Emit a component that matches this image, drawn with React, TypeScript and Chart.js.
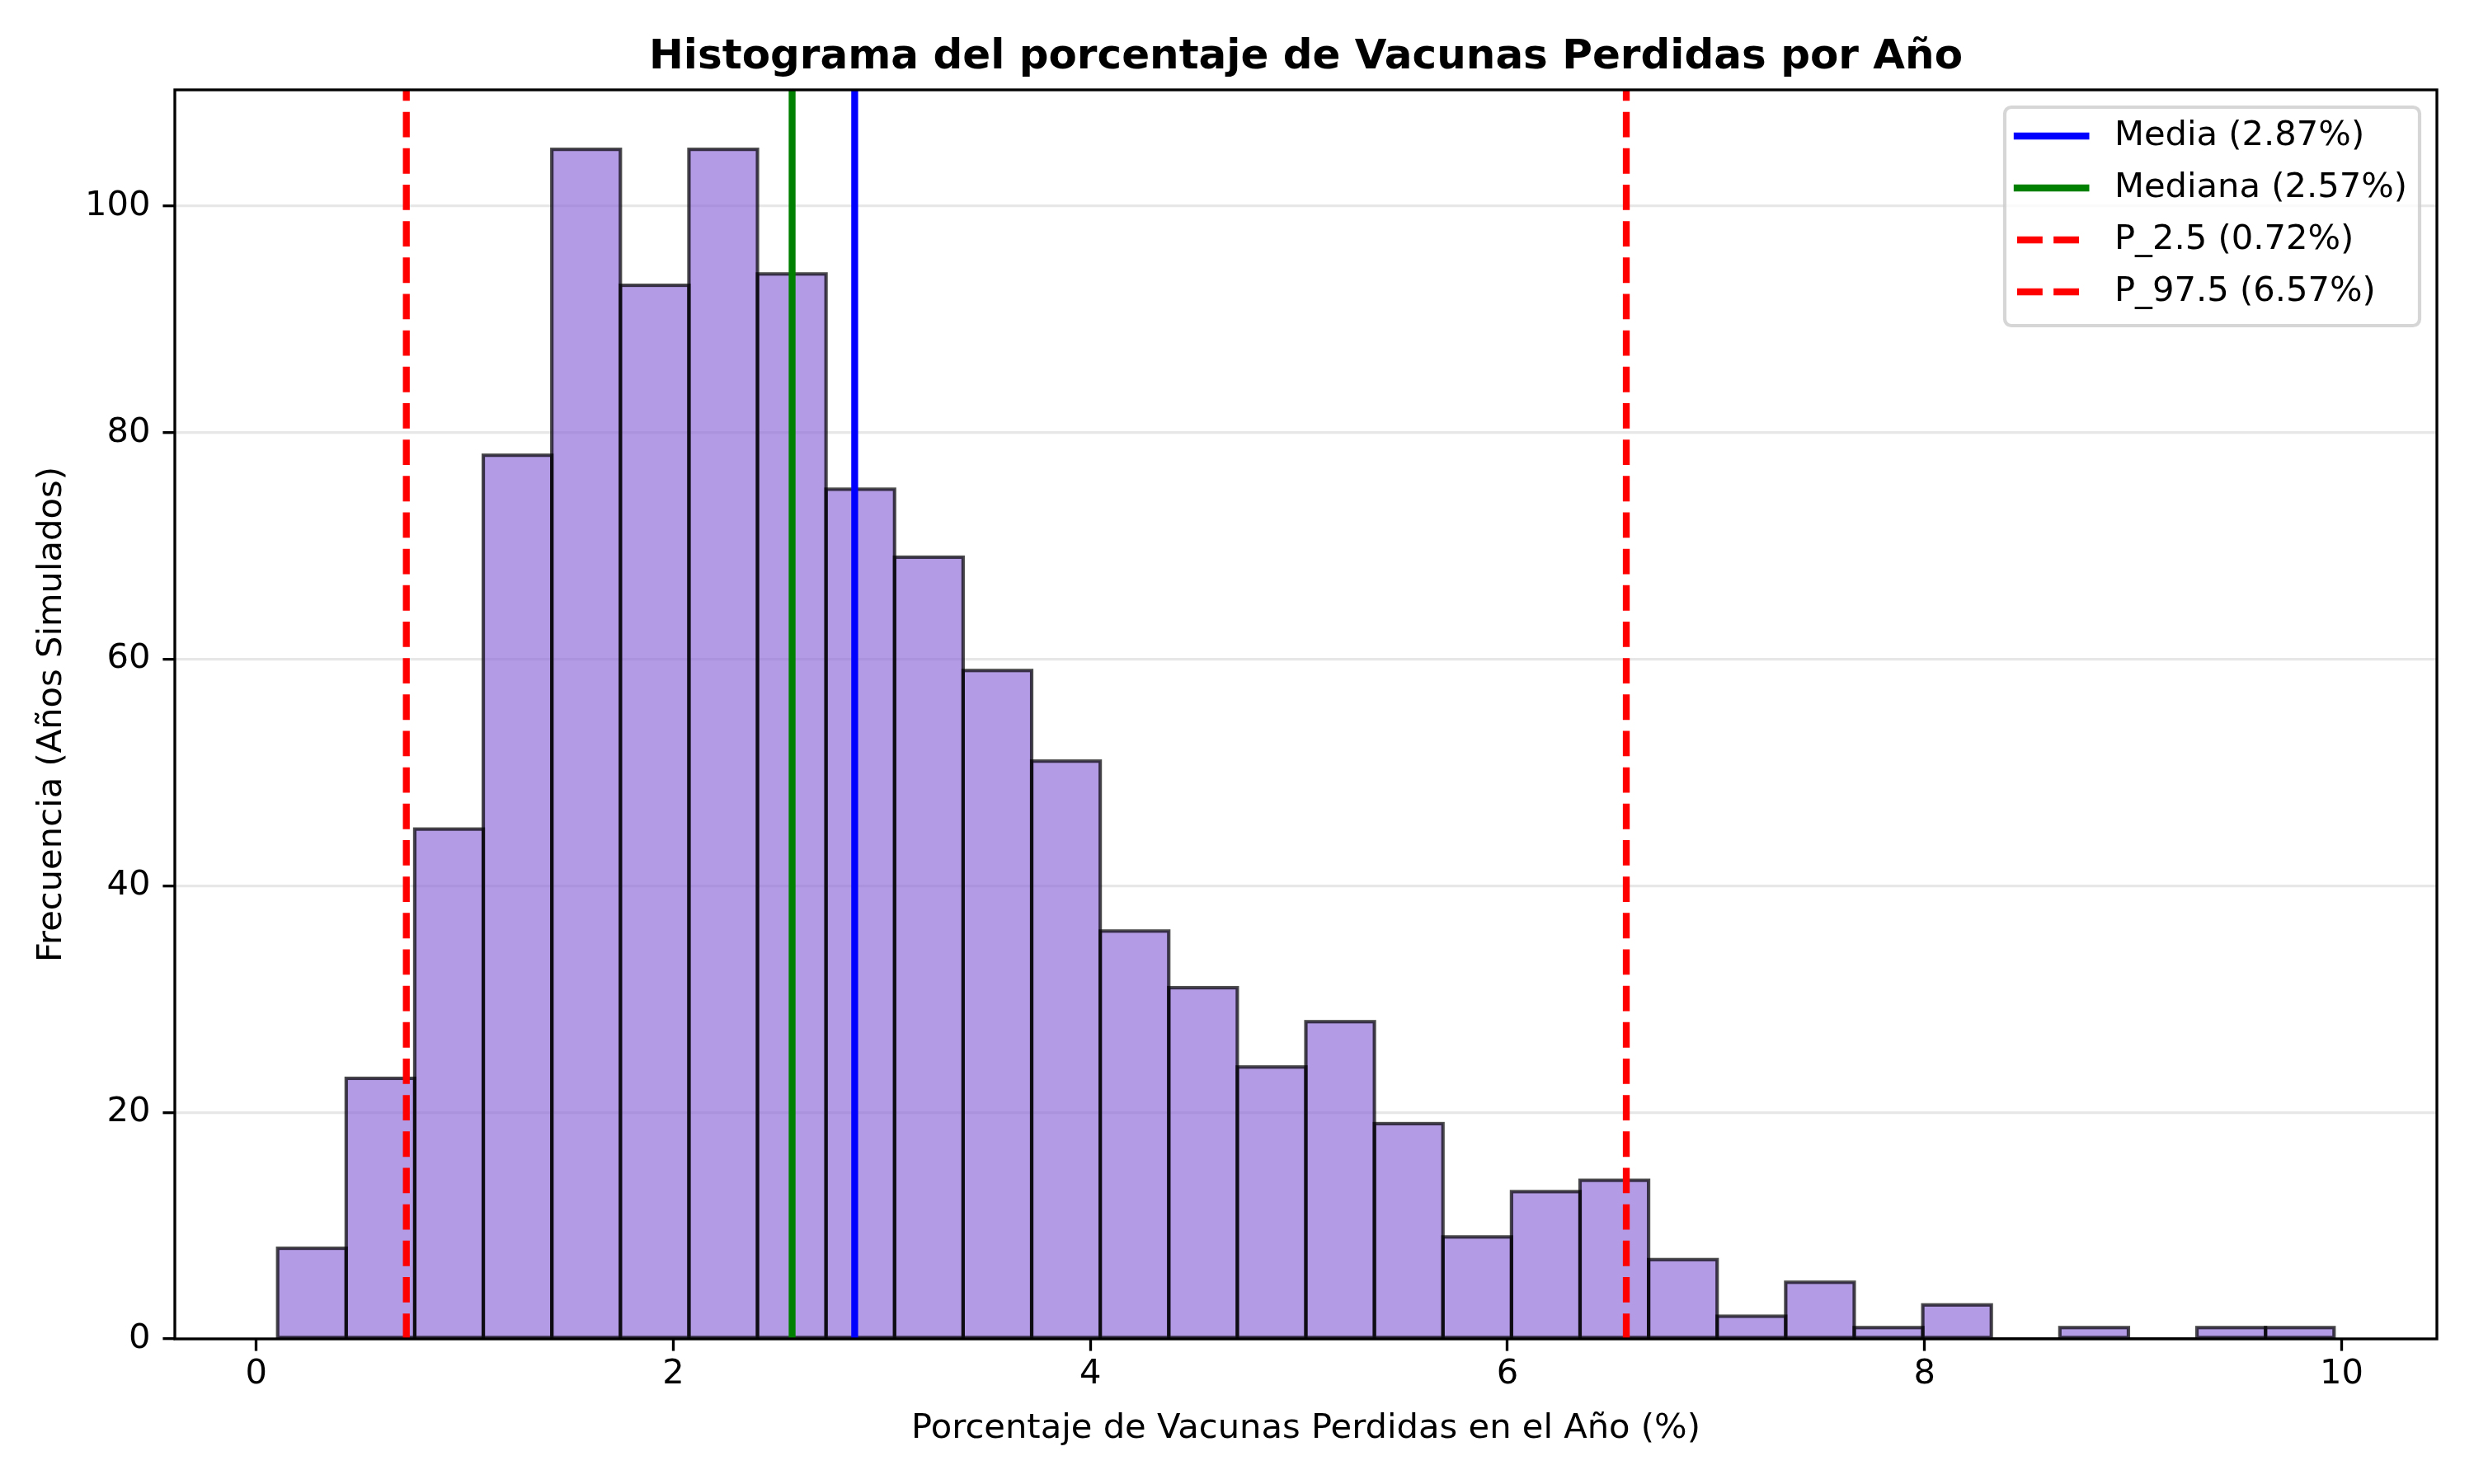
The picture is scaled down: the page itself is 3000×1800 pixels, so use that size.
import { useEffect, useRef } from 'react';
import { Chart, registerables } from 'chart.js';

Chart.register(...registerables);

// histogram bins
const binStart = 0.103;
const binWidth = 0.3287;
const binCounts = [8, 23, 45, 78, 105, 93, 105, 94, 75, 69, 59, 51, 36, 31, 24, 28, 19, 9, 13, 14, 7, 2, 5, 1, 3, 0, 1, 0, 1, 1];

// reference lines
const refLabels = ['Media (2.87%)', 'Mediana (2.57%)', 'P_2.5 (0.72%)', 'P_97.5 (6.57%)'];
const refValues = [2.87, 2.57, 0.72, 6.57];
const refColors = ['#0000ff', '#008000', '#ff0000', '#ff0000'];
const refDashed = [false, false, true, true];

const xTickValues = [0, 2, 4, 6, 8, 10];
const yTickValues = [0, 20, 40, 60, 80, 100];

const titleText = 'Histograma del porcentaje de Vacunas Perdidas por Año';
const xTitle = 'Porcentaje de Vacunas Perdidas en el Año (%)';
const yTitle = 'Frecuencia (Años Simulados)';

const FONT = "'DejaVu Sans', sans-serif";
const PT = 300 / 72; // px per point
const DASH = [3.7 * 2 * PT, 1.6 * 2 * PT];

const binEnd = binStart + binWidth * binCounts.length;
const xMin = binStart - 0.05 * (binEnd - binStart);
const xMax = binEnd + 0.05 * (binEnd - binStart);
const yMax = Math.max(...binCounts) * 1.05;

// bar outlines drawn centred on the bar edges, like matplotlib
const outlinePlugin = {
  id: 'histOutline',
  afterDatasetDraw(chart: any, args: any) {
    if (args.index !== 0) return;
    const { ctx, chartArea } = chart;
    ctx.save();
    ctx.beginPath();
    ctx.rect(chartArea.left, chartArea.top, chartArea.width, chartArea.height);
    ctx.clip();
    ctx.lineWidth = 1 * PT;
    ctx.strokeStyle = 'rgba(0,0,0,0.7)';
    ctx.lineJoin = 'miter';
    args.meta.data.forEach((el: any) => {
      const { x, y, base, width } = el.getProps(['x', 'y', 'base', 'width'], true);
      ctx.strokeRect(x - width / 2, y, width, base - y);
    });
    ctx.restore();
  },
};

// axes frame + boxed legend
const framePlugin = {
  id: 'frameLegend',
  afterDraw(chart: any) {
    const { ctx, chartArea } = chart;
    ctx.save();
    ctx.lineWidth = 0.8 * PT;
    ctx.strokeStyle = '#000';
    ctx.strokeRect(chartArea.left, chartArea.top, chartArea.width, chartArea.height);

    const boxW = 503;
    const boxH = 265;
    const bx = chartArea.right - 21 - boxW;
    const by = chartArea.top + 21;
    const r = 8;
    ctx.beginPath();
    ctx.moveTo(bx + r, by);
    ctx.arcTo(bx + boxW, by, bx + boxW, by + boxH, r);
    ctx.arcTo(bx + boxW, by + boxH, bx, by + boxH, r);
    ctx.arcTo(bx, by + boxH, bx, by, r);
    ctx.arcTo(bx, by, bx + boxW, by, r);
    ctx.closePath();
    ctx.fillStyle = 'rgba(255,255,255,0.8)';
    ctx.fill();
    ctx.lineWidth = 1 * PT;
    ctx.strokeStyle = 'rgba(204,204,204,0.8)';
    ctx.stroke();

    const datasets = chart.data.datasets.slice(1);
    datasets.forEach((ds: any, i: number) => {
      const cy = by + 35 + i * 63;
      const hx = bx + 15;
      const hl = 2 * 10 * PT;
      ctx.lineWidth = 2 * PT;
      ctx.strokeStyle = ds.borderColor;
      ctx.setLineDash(ds.borderDash || []);
      ctx.lineCap = ds.borderDash && ds.borderDash.length ? 'butt' : 'square';
      ctx.beginPath();
      ctx.moveTo(hx, cy);
      ctx.lineTo(hx + hl, cy);
      ctx.stroke();
      ctx.setLineDash([]);
      ctx.fillStyle = '#000';
      ctx.font = `${10 * PT}px ${FONT}`;
      ctx.textBaseline = 'middle';
      ctx.textAlign = 'left';
      ctx.fillText(ds.label, bx + 133, cy);
    });
    ctx.restore();
  },
};

export default function App() {
  const canvasRef = useRef<HTMLCanvasElement>(null);
  const chartRef = useRef<Chart | null>(null);

  useEffect(() => {
    document.body.style.margin = '0';
    document.body.style.overflow = 'hidden';
    if (!canvasRef.current) return;
    if (chartRef.current) chartRef.current.destroy();

    const bars = binCounts.map((c, i) => ({ x: binStart + (i + 0.5) * binWidth, y: c }));

    const lines = refValues.map((v, i) => ({
      type: 'line' as const,
      label: refLabels[i],
      data: [{ x: v, y: 0 }, { x: v, y: yMax }],
      borderColor: refColors[i],
      borderWidth: 2 * PT,
      borderDash: refDashed[i] ? DASH : [],
      borderCapStyle: 'butt' as const,
      pointRadius: 0,
      fill: false,
      order: 1,
    }));

    chartRef.current = new Chart(canvasRef.current, {
      type: 'bar',
      data: {
        datasets: [
          {
            label: 'hist',
            data: bars,
            backgroundColor: 'rgba(147,112,219,0.7)',
            borderWidth: 0,
            barPercentage: 1,
            categoryPercentage: 1,
            order: 2,
          } as any,
          ...lines,
        ],
      },
      options: {
        responsive: false,
        devicePixelRatio: 1,
        animation: false,
        events: [],
        layout: { padding: { left: 0, right: 45, top: 0, bottom: 0 } },
        plugins: {
          legend: { display: false },
          tooltip: { enabled: false },
          title: {
            display: true,
            text: titleText,
            fullSize: false,
            color: '#000',
            font: { family: FONT, size: 12 * PT, weight: 'bold', lineHeight: 1.2 },
            padding: { top: 40, bottom: 9 },
          },
        },
        scales: {
          x: {
            type: 'linear',
            min: xMin,
            max: xMax,
            offset: false,
            afterBuildTicks: (scale: any) => {
              scale.ticks = xTickValues.map(v => ({ value: v }));
            },
            afterFit: (scale: any) => {
              scale.height = 176;
            },
            border: { display: false },
            grid: {
              offset: false,
              drawOnChartArea: false,
              color: 'rgba(0,0,0,0)',
              drawTicks: true,
              tickLength: 3.5 * PT,
              tickWidth: 0.8 * PT,
              tickColor: '#000',
            },
            ticks: {
              color: '#000',
              padding: 4,
              maxRotation: 0,
              font: { family: FONT, size: 10 * PT },
            },
            title: {
              display: true,
              text: xTitle,
              color: '#000',
              font: { family: FONT, size: 10 * PT, lineHeight: 1.2 },
              padding: { top: 0, bottom: 42 },
            },
          },
          y: {
            type: 'linear',
            min: 0,
            max: yMax,
            afterBuildTicks: (scale: any) => {
              scale.ticks = yTickValues.map(v => ({ value: v }));
            },
            afterFit: (scale: any) => {
              scale.width = 212;
            },
            border: { display: false },
            grid: {
              color: 'rgba(176,176,176,0.3)',
              lineWidth: 0.8 * PT,
              drawTicks: true,
              tickLength: 3.5 * PT,
              tickWidth: 0.8 * PT,
              tickColor: '#000',
            },
            ticks: {
              color: '#000',
              padding: 15,
              font: { family: FONT, size: 10 * PT },
            },
            title: {
              display: true,
              text: yTitle,
              color: '#000',
              font: { family: FONT, size: 10 * PT, lineHeight: 1.2 },
              padding: { top: 38, bottom: 0 },
            },
          },
        },
      },
      plugins: [outlinePlugin, framePlugin],
    });

    return () => {
      if (chartRef.current) {
        chartRef.current.destroy();
        chartRef.current = null;
      }
    };
  }, []);

  return (
    <div style={{ width: 3000, height: 1800, background: '#fff' }}>
      <canvas ref={canvasRef} width={3000} height={1800} style={{ display: 'block', width: 3000, height: 1800 }} />
    </div>
  );
}
